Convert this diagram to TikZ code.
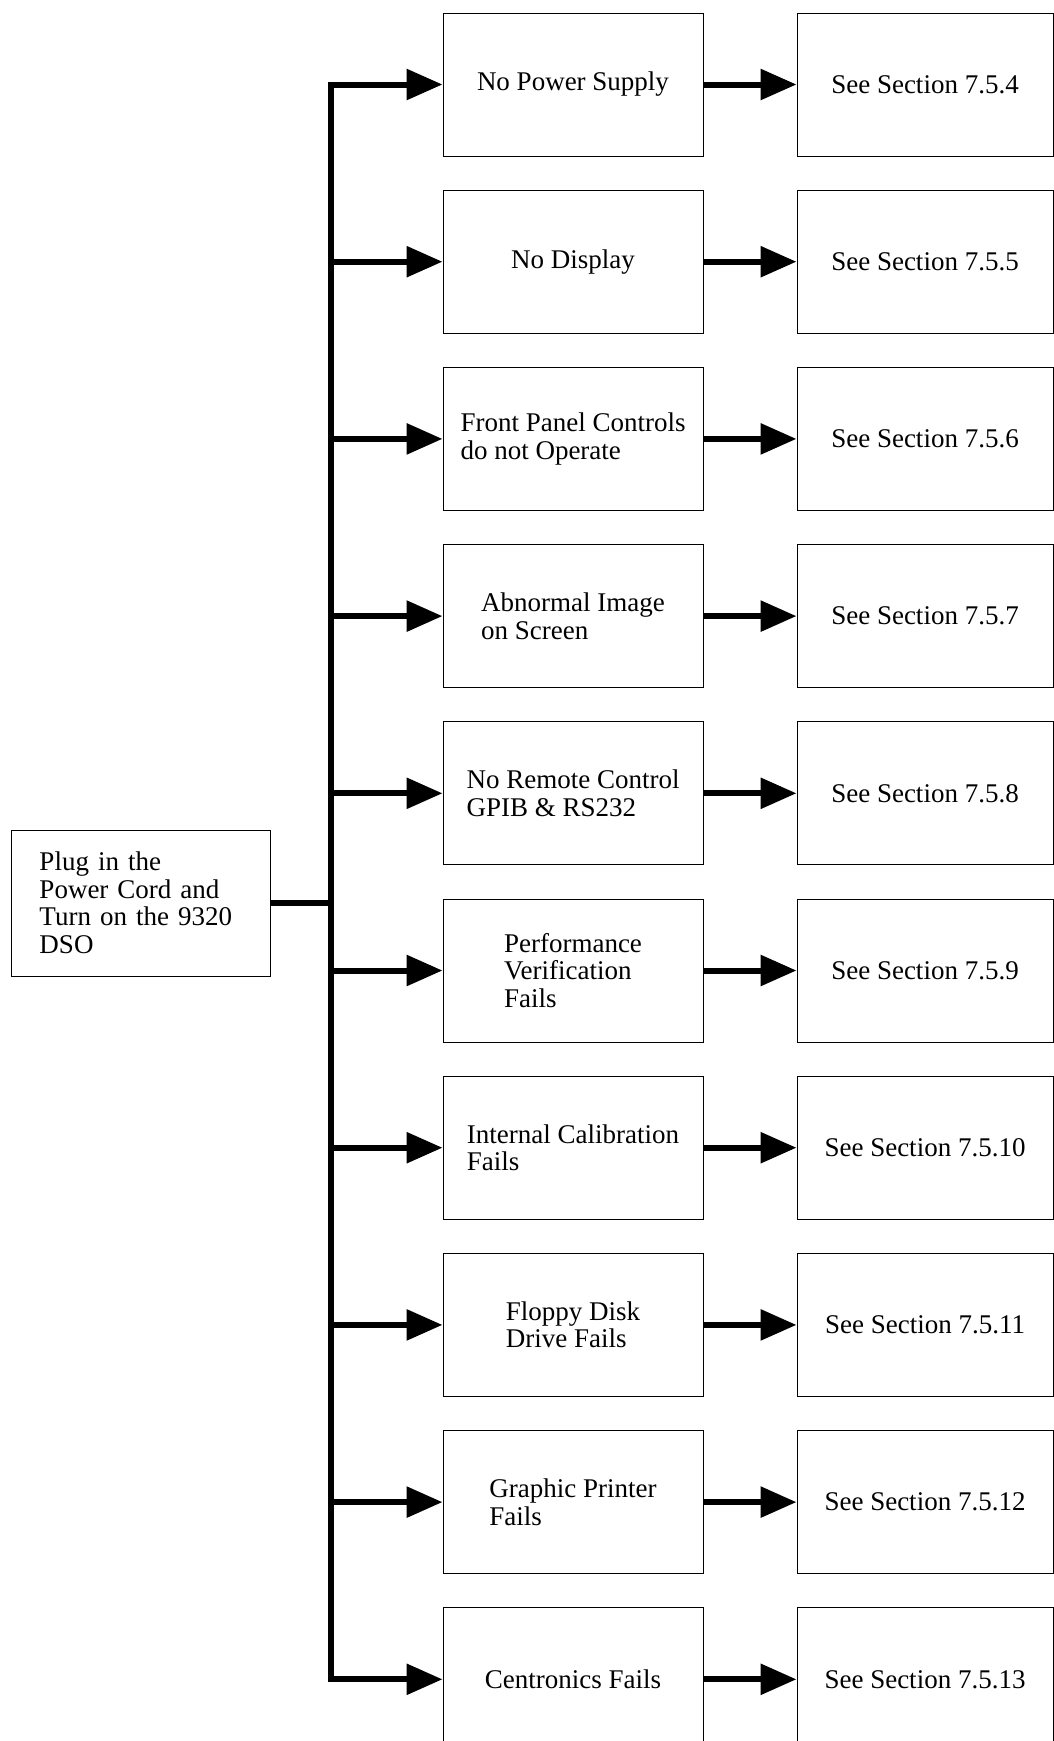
\documentclass[tikz,border=0pt]{standalone}
\usepackage{fontspec}
\setmainfont{Liberation Serif}
\usetikzlibrary{positioning,arrows.meta}

\begin{document}
\begin{tikzpicture}[
    node distance=16.6pt and 46.5pt,
    block/.style={rectangle, draw, line width=0.5pt, minimum width=130pt, minimum height=71.5pt, align=left, font=\fontsize{13.5}{13.75}\selectfont},
    secbox/.style={block, minimum width=128pt},
    plugbox/.style={rectangle, draw, line width=0.5pt, text width=101pt, inner xsep=14.25pt, minimum height=73pt, align=left, font=\fontsize{13.5}{13.75}\selectfont},
    arrow/.style={-{Triangle[length=18pt, width=15pt]}, line width=3pt},
    link/.style={line width=3pt},
    trunk/.style={link, line cap=rect},
]
    \useasboundingbox (0,0) rectangle (527pt,-870.5pt);
    \clip (0,0) rectangle (527pt,-870.5pt);

    % Start box and bus
    \node[plugbox] (plug) at (70.25pt,-451.5pt) {Plug in the\\Power Cord and\\Turn on the 9320\\DSO};
    \coordinate (bus) at (165.5pt,0pt);

    % Fault branches
    \node[block] (nopower) at (286.5pt,-42.25pt) {No Power Supply};
    \node[block, below=of nopower] (nodisp) {No Display};
    \node[block, below=of nodisp] (panel) {Front Panel Controls\\do not Operate};
    \node[block, below=of panel] (image) {Abnormal Image\\on Screen};
    \node[block, below=of image] (remote) {No Remote Control\\GPIB \& RS232};
    \node[block, below=of remote] (perf) {Performance\\Verification\\Fails};
    \node[block, below=of perf] (calib) {Internal Calibration\\Fails};
    \node[block, below=of calib] (floppy) {Floppy Disk\\Drive Fails};
    \node[block, below=of floppy] (printer) {Graphic Printer\\Fails};
    \node[block, below=of printer] (centr) {Centronics Fails};

    % Section references
    \node[secbox, right=of nopower] (sec4) {See Section 7.5.4};
    \node[secbox, right=of nodisp] (sec5) {See Section 7.5.5};
    \node[secbox, right=of panel] (sec6) {See Section 7.5.6};
    \node[secbox, right=of image] (sec7) {See Section 7.5.7};
    \node[secbox, right=of remote] (sec8) {See Section 7.5.8};
    \node[secbox, right=of perf] (sec9) {See Section 7.5.9};
    \node[secbox, right=of calib] (sec10) {See Section 7.5.10};
    \node[secbox, right=of floppy] (sec11) {See Section 7.5.11};
    \node[secbox, right=of printer] (sec12) {See Section 7.5.12};
    \node[secbox, right=of centr] (sec13) {See Section 7.5.13};

    % Bus lines
    \draw[link] (plug) -- (plug -| bus);
    \draw[trunk] (bus |- nopower) -- (bus |- centr);

    % Arrows into the faults
    \draw[arrow] (bus |- nopower) -- (nopower);
    \draw[arrow] (bus |- nodisp) -- (nodisp);
    \draw[arrow] (bus |- panel) -- (panel);
    \draw[arrow] (bus |- image) -- (image);
    \draw[arrow] (bus |- remote) -- (remote);
    \draw[arrow] (bus |- perf) -- (perf);
    \draw[arrow] (bus |- calib) -- (calib);
    \draw[arrow] (bus |- floppy) -- (floppy);
    \draw[arrow] (bus |- printer) -- (printer);
    \draw[arrow] (bus |- centr) -- (centr);

    % Arrows to the sections
    \draw[arrow] (nopower) -- (sec4);
    \draw[arrow] (nodisp) -- (sec5);
    \draw[arrow] (panel) -- (sec6);
    \draw[arrow] (image) -- (sec7);
    \draw[arrow] (remote) -- (sec8);
    \draw[arrow] (perf) -- (sec9);
    \draw[arrow] (calib) -- (sec10);
    \draw[arrow] (floppy) -- (sec11);
    \draw[arrow] (printer) -- (sec12);
    \draw[arrow] (centr) -- (sec13);
\end{tikzpicture}
\end{document}
